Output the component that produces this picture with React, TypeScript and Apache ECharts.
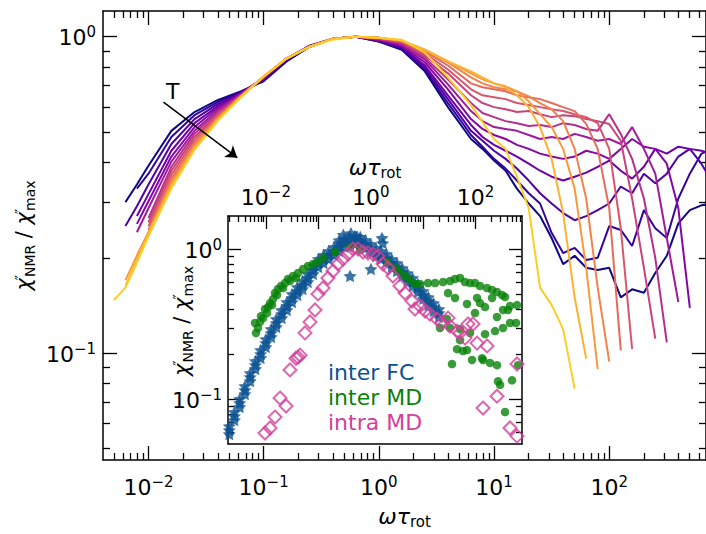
import React, { useEffect, useRef } from 'react';
import * as echarts from 'echarts';

const FONT = 'DejaVu Sans';

// ---------- main chart data ----------
const X_GRID = [0.00501, 0.00631, 0.00794, 0.01, 0.0158, 0.0251, 0.0398, 0.0631, 0.1, 0.158, 0.251, 0.398, 0.631, 1, 1.58, 2.51, 3.98, 6.31, 7.94, 10, 12.6, 15.8, 20, 25.1, 31.6, 39.8, 50.1, 63.1, 79.4, 100, 126, 158, 200, 251, 316, 398, 501, 631, 794, 1000];

const CURVE_0 = [null, 0.300, 0.341, 0.391, 0.504, 0.578, 0.630, 0.672, 0.723, 0.835, 0.930, 0.986, 1.0, 0.965, 0.910, 0.777, 0.599, 0.475, 0.442, 0.406, 0.377, 0.331, 0.297, 0.271, 0.231, 0.191, 0.203, 0.186, 0.183, 0.186, 0.150, 0.159, 0.155, 0.179, 0.203, 0.257, 0.283, 0.293, 0.297, 0.297];
const CURVE_1 = [null, null, 0.331, 0.369, 0.482, 0.565, 0.621, 0.668, 0.728, 0.841, 0.930, 0.986, 1.0, 0.965, 0.917, 0.788, 0.617, 0.489, 0.449, 0.411, 0.383, 0.351, 0.320, 0.297, 0.240, 0.207, 0.215, 0.197, 0.200, 0.252, 0.245, 0.218, 0.283, 0.248, 0.231, 0.308, 0.369, 0.427, 0.442, 0.442];
const CURVE_2 = [null, 0.252, 0.291, 0.341, 0.458, 0.549, 0.612, 0.663, 0.733, 0.847, 0.937, 0.986, 1.0, 0.972, 0.924, 0.800, 0.635, 0.504, 0.469, 0.436, 0.411, 0.383, 0.351, 0.320, 0.297, 0.277, 0.263, 0.271, 0.283, 0.297, 0.336, 0.320, 0.369, 0.344, 0.369, 0.418, 0.442, 0.397, 0.344, 0.308];
const CURVE_3 = [null, null, 0.271, 0.318, 0.436, 0.533, 0.603, 0.663, 0.739, 0.853, 0.937, 0.986, 1.0, 0.972, 0.930, 0.811, 0.653, 0.526, 0.482, 0.455, 0.436, 0.418, 0.397, 0.377, 0.361, 0.351, 0.361, 0.372, 0.388, 0.406, 0.377, 0.356, 0.388, 0.442, 0.427, 0.449, 0.442, 0.436, 0.427, 0.411];
const CURVE_4 = [null, null, 0.256, 0.302, 0.418, 0.518, 0.595, 0.658, 0.739, 0.853, 0.930, 0.986, 1.0, 0.979, 0.937, 0.829, 0.682, 0.549, 0.511, 0.489, 0.475, 0.455, 0.442, 0.427, 0.418, 0.411, 0.418, 0.436, 0.427, 0.411, 0.442, 0.475, 0.449, 0.442, 0.397, 0.287, 0.139, null, null, null];
const CURVE_5 = [null, null, 0.241, 0.287, 0.403, 0.504, 0.586, 0.658, 0.744, 0.853, 0.930, 0.986, 1.0, 0.979, 0.944, 0.847, 0.707, 0.582, 0.541, 0.518, 0.511, 0.504, 0.489, 0.475, 0.482, 0.475, 0.493, 0.482, 0.469, 0.475, 0.458, 0.518, 0.442, 0.369, 0.231, 0.145, null, null, null, null];
const CURVE_6 = [null, null, null, 0.267, 0.388, 0.493, 0.578, 0.653, 0.744, 0.853, 0.930, 0.986, 1.0, 0.986, 0.951, 0.859, 0.733, 0.617, 0.574, 0.557, 0.541, 0.533, 0.522, 0.526, 0.518, 0.533, 0.526, 0.511, 0.504, 0.569, 0.493, 0.411, 0.308, 0.200, 0.108, null, null, null, null, null];
const CURVE_7 = [null, null, null, 0.259, 0.377, 0.482, 0.569, 0.653, 0.744, 0.853, 0.930, 0.986, 1.0, 0.986, 0.958, 0.872, 0.766, 0.653, 0.617, 0.599, 0.590, 0.578, 0.582, 0.569, 0.557, 0.565, 0.561, 0.549, 0.541, 0.530, 0.469, 0.308, 0.186, 0.111, null, null, null, null, null, null];
const CURVE_8 = [null, null, null, 0.252, 0.366, 0.472, 0.565, 0.648, 0.749, 0.853, 0.930, 0.986, 1.0, 0.993, 0.965, 0.885, 0.788, 0.682, 0.653, 0.644, 0.635, 0.617, 0.608, 0.599, 0.590, 0.582, 0.569, 0.557, 0.533, 0.442, 0.248, 0.103, null, null, null, null, null, null, null, null];
const CURVE_9 = [null, null, null, 0.245, 0.356, 0.462, 0.557, 0.648, 0.749, 0.853, 0.930, 0.986, 1.0, 0.993, 0.965, 0.897, 0.811, 0.712, 0.692, 0.682, 0.672, 0.653, 0.644, 0.635, 0.617, 0.599, 0.582, 0.530, 0.442, 0.287, 0.102, null, null, null, null, null, null, null, null, null];
const CURVE_10 = [null, null, 0.203, 0.241, 0.349, 0.455, 0.553, 0.648, 0.749, 0.853, 0.930, 0.986, 1.0, 0.993, 0.972, 0.904, 0.829, 0.744, 0.712, 0.692, 0.682, 0.672, 0.648, 0.617, 0.590, 0.541, 0.442, 0.308, 0.161, 0.094, null, null, null, null, null, null, null, null, null, null];
const CURVE_11 = [null, 0.170, 0.203, 0.240, 0.341, 0.449, 0.549, 0.644, 0.749, 0.853, 0.930, 0.986, 1.0, 0.993, 0.972, 0.910, 0.835, 0.766, 0.733, 0.712, 0.697, 0.672, 0.625, 0.569, 0.518, 0.442, 0.331, 0.186, 0.089, null, null, null, null, null, null, null, null, null, null, null];
const CURVE_12 = [null, 0.163, 0.197, 0.238, 0.336, 0.442, 0.545, 0.644, 0.749, 0.853, 0.930, 0.986, 1.0, 0.993, 0.972, 0.910, 0.835, 0.777, 0.744, 0.712, 0.692, 0.653, 0.599, 0.518, 0.411, 0.277, 0.150, 0.096, null, null, null, null, null, null, null, null, null, null, null, null];
const CURVE_13 = [0.147, 0.161, 0.193, 0.234, 0.331, 0.439, 0.541, 0.644, 0.749, 0.853, 0.930, 0.979, 1.0, 0.993, 0.979, 0.891, 0.744, 0.608, 0.537, 0.475, 0.442, 0.361, 0.287, 0.161, 0.142, 0.119, 0.077, null, null, null, null, null, null, null, null, null, null, null, null, null];

const CURVES = [CURVE_0, CURVE_1, CURVE_2, CURVE_3, CURVE_4, CURVE_5, CURVE_6, CURVE_7, CURVE_8, CURVE_9, CURVE_10, CURVE_11, CURVE_12, CURVE_13];
const CURVE_COLORS = ['#0d0887', '#330597', '#5002a2', '#6d00a8', '#8707a6', '#a01a9c', '#b52f8c', '#c8437b', '#d7566c', '#e56b5d', '#f1834c', '#f99a3c', '#fdb130', '#fcce25'];

const ARROW_FROM = [0.0135, 0.621];
const ARROW_TO = [0.059, 0.4145];

// ---------- inset data ----------
const FC_X = [0.002, 0.00251, 0.00316, 0.00398, 0.00501, 0.00631, 0.00794, 0.01, 0.0126, 0.0158, 0.02, 0.0251, 0.0316, 0.0398, 0.0501, 0.0631, 0.0794, 0.1, 0.126, 0.158, 0.2, 0.251, 0.316, 0.398, 0.501, 0.631, 0.794, 1, 1.26, 1.58, 2, 2.51, 3.16, 3.98, 5.01, 6.31, 7.94, 10, 12.6, 15.8, 20];
const FC_Y_CENTER = [0.0624, 0.0774, 0.0946, 0.1153, 0.1409, 0.1694, 0.2005, 0.2372, 0.2767, 0.3227, 0.3705, 0.4188, 0.4733, 0.5272, 0.5781, 0.6439, 0.7278, 0.81, 0.8615, 0.9163, 0.9743, 1.036, 1.102, 1.136, 1.153, 1.136, 1.085, 1.02, 0.959, 0.916, 0.875, 0.81, 0.762, 0.706, 0.653, 0.605, 0.552, 0.496, 0.452, 0.412, 0.376];
const FC_Y_UPPER = [0.0663, 0.0823, 0.1006, 0.1226, 0.1498, 0.1801, 0.2131, 0.2521, 0.2941, 0.343, 0.3938, 0.4452, 0.5031, 0.5604, 0.6145, 0.6845, 0.7737, 0.861, 0.9158, 0.974, 1.0357, 1.101, 1.171, 1.208, 1.226, 1.208, 1.153, 1.084, 1.019, 0.974, 0.93, 0.861, 0.81, 0.75, 0.694, 0.643, 0.587, 0.527, 0.48, 0.438, 0.4];
const FC_Y_LOWER = [0.0587, 0.0728, 0.089, 0.1085, 0.1326, 0.1594, 0.1887, 0.2232, 0.2604, 0.3037, 0.3486, 0.3941, 0.4454, 0.4961, 0.544, 0.6059, 0.6849, 0.7622, 0.8107, 0.8622, 0.9168, 0.975, 1.037, 1.069, 1.085, 1.069, 1.021, 0.96, 0.902, 0.862, 0.823, 0.762, 0.717, 0.664, 0.614, 0.569, 0.519, 0.467, 0.425, 0.388, 0.354];
const FC_EXTRA = [[0.403, 0.664], [1.01, 0.739], [1.64, 1.19], [0.3, 1.25], [0.42, 1.28], [0.55, 1.22], [1.7, 1.1], [0.25, 1.15]];

const MD_INTER = [
  [0.00647, 0.277], [0.00619, 0.323], [0.00706, 0.299], [0.00771, 0.328], [0.00806, 0.359], [0.00881, 0.348], [0.00961, 0.4], [0.0105, 0.376],
  [0.011, 0.412], [0.012, 0.438], [0.0131, 0.425], [0.01365, 0.466], [0.0149, 0.511], [0.0163, 0.496], [0.017, 0.544], [0.0194, 0.569],
  [0.0212, 0.552], [0.0232, 0.596], [0.0264, 0.634], [0.0288, 0.615], [0.0329, 0.664], [0.0375, 0.644], [0.041, 0.695], [0.0511, 0.739],
  [0.0636, 0.774], [0.0792, 0.798], [0.0987, 0.823], [0.123, 0.875], [0.208, 0.959], [0.403, 1.036], [0.625, 0.99], [2.05, 0.823],
  [2.9, 0.75], [3.62, 0.706], [4.52, 0.664], [5.62, 0.624], [7.0, 0.587], [8.73, 0.587], [12.4, 0.596], [16.9, 0.596], [24.0, 0.605],
  [32.6, 0.615], [40.6, 0.634], [50.6, 0.644], [63.0, 0.605], [78.5, 0.596], [97.8, 0.596], [122, 0.569], [166, 0.552], [207, 0.536],
  [257, 0.519], [321, 0.496], [366, 0.481], [455, 0.419], [619, 0.425], [29.9, 0.511], [40.6, 0.474], [68.8, 0.432], [107, 0.474],
  [122, 0.438], [152, 0.412], [207, 0.474], [257, 0.354], [335, 0.394], [417, 0.394], [593, 0.323], [21.0, 0.299], [28.6, 0.343],
  [32.6, 0.299], [50.6, 0.294], [50.6, 0.248], [68.8, 0.213], [85.8, 0.183], [78.5, 0.277], [97.8, 0.376], [139, 0.183], [189, 0.175],
  [257, 0.169], [152, 0.272], [236, 0.285], [335, 0.299], [455, 0.323], [35.6, 0.172], [44.4, 0.216], [57.7, 0.21], [133, 0.188],
  [269, 0.132], [294, 0.125], [366, 0.0823], [497, 0.134], [647, 0.169],
];

const MD_INTRA = [
  [0.0096, 0.0596], [0.012, 0.0644], [0.0149, 0.0762], [0.0186, 0.102], [0.0242, 0.0902], [0.0288, 0.157], [0.0375, 0.188], [0.041, 0.191],
  [0.0448, 0.197], [0.0557, 0.277], [0.0695, 0.328], [0.0865, 0.394], [0.0987, 0.504], [0.123, 0.552], [0.153, 0.644], [0.191, 0.717],
  [0.238, 0.798], [0.296, 0.862], [0.369, 0.93], [0.459, 1.005], [0.573, 1.005], [0.713, 0.959], [0.888, 0.945], [1.106, 0.93],
  [1.378, 0.902], [1.717, 0.798], [2.14, 0.75], [2.66, 0.664], [3.62, 0.569], [4.52, 0.511], [6.14, 0.452], [7.0, 0.4], [8.73, 0.419],
  [10.9, 0.388], [13.5, 0.37], [18.4, 0.343], [22.9, 0.323], [29.9, 0.348], [32.6, 0.308], [44.4, 0.285], [50.6, 0.277], [63.0, 0.256],
  [71.9, 0.318], [89.6, 0.318], [107, 0.237], [166, 0.227], [139, 0.0875], [257, 0.105], [455, 0.0644], [619, 0.0569], [619, 0.172],
];

// ---------- axes / ticks ----------
const MAIN_X_MIN = 0.00403;
const MAIN_X_MAX = 692;
const MAIN_Y_MIN = 0.0459;
const MAIN_Y_MAX = 1.206;
const INSET_X_MIN = 0.00189;
const INSET_X_MAX = 771;
const INSET_Y_MIN = 0.0504;
const INSET_Y_MAX = 1.667;

const MAIN_X_MAJOR = [0.01, 0.1, 1, 10, 100];
const MAIN_Y_MAJOR = [0.1, 1];
const INSET_X_MAJOR = [0.01, 0.1, 1, 10, 100];
const INSET_X_LABELS = [0.01, 1, 100];
const INSET_Y_MAJOR = [0.1, 1];
const DECADES = [0.001, 0.01, 0.1, 1, 10, 100, 1000];

const minorTicks = (min: number, max: number) => {
  const out: number[] = [];
  DECADES.forEach((d) => {
    for (let k = 2; k <= 9; k++) {
      const v = +(k * d).toPrecision(3);
      if (v > min && v < max) out.push(v);
    }
  });
  return out;
};

const MAIN_X_MINOR = minorTicks(MAIN_X_MIN, MAIN_X_MAX);
const MAIN_Y_MINOR = minorTicks(MAIN_Y_MIN, MAIN_Y_MAX);
const INSET_X_MINOR = minorTicks(INSET_X_MIN, INSET_X_MAX);
const INSET_Y_MINOR = minorTicks(INSET_Y_MIN, INSET_Y_MAX);

const STAR = 'path://M0,-10L2.94,-4.05L9.51,-3.09L4.76,1.55L5.88,8.09L0,5L-5.88,8.09L-4.76,1.55L-9.51,-3.09L-2.94,-4.05Z';
const FC_COLOR = '#0b5192';
const MD_COLOR = '#088208';
const INTRA_COLOR = '#d2409a';

const supText = (v: number) => {
  const e = Math.round(Math.log10(v));
  return e < 0 ? '\u2212' + -e : String(e);
};
const tickLabel = (v: number) => `{b|10}{s|${supText(v)}}`;

const labelRich = {
  b: { fontFamily: FONT, fontSize: 22, color: '#000', lineHeight: 24, verticalAlign: 'bottom' },
  s: { fontFamily: FONT, fontSize: 15, color: '#000', lineHeight: 10, verticalAlign: 'top' },
};
const nameRich = {
  i: { fontFamily: FONT, fontSize: 22, fontStyle: 'italic', color: '#000', lineHeight: 24, verticalAlign: 'top' },
  c: { fontFamily: FONT, fontSize: 21, fontStyle: 'italic', color: '#000', lineHeight: 24, verticalAlign: 'top' },
  b: { fontFamily: FONT, fontSize: 21, color: '#000', lineHeight: 24, verticalAlign: 'top' },
  p: { fontFamily: FONT, fontSize: 14, color: '#000', lineHeight: 12, verticalAlign: 'top', width: 1 },
  r: { fontFamily: FONT, fontSize: 15, color: '#000', lineHeight: 14, verticalAlign: 'bottom' },
  q: { fontFamily: FONT, fontSize: 14, color: '#000', lineHeight: 14, verticalAlign: 'bottom' },
};
const OMEGA_TAU = '{i|ωτ}{r|rot}';
const CHI_TITLE = '{c|χ}{p|″}{q|NMR}{b| / }{c|χ}{p|″}{q|max}';

const SPINE = { show: true, lineStyle: { color: '#000', width: 1.5 } };
const ticks = (values: number[], length: number) => ({
  show: true,
  inside: true,
  length,
  customValues: values,
  lineStyle: { color: '#000', width: 1.3 },
});

const logAxis = (o: any) => ({
  type: 'log',
  logBase: 10,
  splitLine: { show: false },
  axisLabel: { show: false },
  axisTick: { show: false },
  axisLine: { show: false },
  nameMoveOverlap: false,
  ...o,
});

function buildOption() {
  const mainX = { gridIndex: 0, min: MAIN_X_MIN, max: MAIN_X_MAX };
  const mainY = { gridIndex: 0, min: MAIN_Y_MIN, max: MAIN_Y_MAX };
  const insX = { gridIndex: 1, min: INSET_X_MIN, max: INSET_X_MAX, z: 11 };
  const insY = { gridIndex: 1, min: INSET_Y_MIN, max: INSET_Y_MAX, z: 11 };

  const xAxis = [
    logAxis({
      ...mainX,
      position: 'bottom',
      axisLine: SPINE,
      axisTick: ticks(MAIN_X_MAJOR, 14),
      axisLabel: { show: true, customValues: MAIN_X_MAJOR, formatter: tickLabel, rich: labelRich, margin: 14 },
      name: OMEGA_TAU,
      nameLocation: 'middle',
      nameGap: 45,
      nameTextStyle: { rich: nameRich },
    }),
    logAxis({ ...mainX, position: 'bottom', axisTick: ticks(MAIN_X_MINOR, 7) }),
    logAxis({ ...mainX, position: 'top', axisLine: SPINE, axisTick: ticks(MAIN_X_MAJOR, 14) }),
    logAxis({ ...mainX, position: 'top', axisTick: ticks(MAIN_X_MINOR, 7) }),
    logAxis({
      ...insX,
      position: 'top',
      axisLine: SPINE,
      axisTick: ticks(INSET_X_MAJOR, 13),
      axisLabel: { show: true, customValues: INSET_X_LABELS, formatter: tickLabel, rich: labelRich, margin: 8 },
      name: OMEGA_TAU,
      nameLocation: 'middle',
      nameGap: 36,
      nameTextStyle: { rich: nameRich },
    }),
    logAxis({ ...insX, position: 'top', axisTick: ticks(INSET_X_MINOR, 6) }),
    logAxis({ ...insX, position: 'bottom', axisLine: SPINE }),
  ];

  const yAxis = [
    logAxis({
      ...mainY,
      position: 'left',
      axisLine: SPINE,
      axisTick: ticks(MAIN_Y_MAJOR, 14),
      axisLabel: { show: true, customValues: MAIN_Y_MAJOR, formatter: tickLabel, rich: labelRich, margin: 7 },
      name: CHI_TITLE,
      nameLocation: 'middle',
      nameGap: 66,
      nameTextStyle: { rich: nameRich },
    }),
    logAxis({ ...mainY, position: 'left', axisTick: ticks(MAIN_Y_MINOR, 7) }),
    logAxis({ ...mainY, position: 'right', axisLine: SPINE, axisTick: ticks(MAIN_Y_MAJOR, 14) }),
    logAxis({ ...mainY, position: 'right', axisTick: ticks(MAIN_Y_MINOR, 7) }),
    logAxis({
      ...insY,
      position: 'left',
      axisLine: SPINE,
      axisTick: ticks(INSET_Y_MAJOR, 13),
      axisLabel: { show: true, customValues: INSET_Y_MAJOR, formatter: tickLabel, rich: labelRich, margin: 6 },
      name: CHI_TITLE,
      nameLocation: 'middle',
      nameGap: 33,
      nameTextStyle: { rich: nameRich, padding: [0, 0, 0, 18] },
    }),
    logAxis({ ...insY, position: 'left', axisTick: ticks(INSET_Y_MINOR, 6) }),
    logAxis({ ...insY, position: 'right', axisLine: SPINE, axisTick: ticks(INSET_Y_MAJOR, 13) }),
    logAxis({ ...insY, position: 'right', axisTick: ticks(INSET_Y_MINOR, 6) }),
  ];

  const lineSeries = CURVES.map((curve, i) => ({
    type: 'line',
    name: 'T' + (i + 1),
    xAxisIndex: 0,
    yAxisIndex: 0,
    z: 2,
    symbol: 'none',
    showSymbol: false,
    silent: true,
    lineStyle: { color: CURVE_COLORS[i], width: 2 },
    data: X_GRID.map((x, j) => [x, curve[j]]).filter((p) => p[1] !== null),
    ...(i === 0
      ? {
          markLine: {
            silent: true,
            symbol: ['none', 'arrow'],
            symbolSize: 11,
            lineStyle: { color: '#000', width: 1.5, type: 'solid' },
            label: { show: false },
            data: [[{ coord: ARROW_FROM }, { coord: ARROW_TO }]],
          },
        }
      : {}),
  }));

  const fcData = [
    ...FC_X.map((x, i) => [x, FC_Y_LOWER[i]]),
    ...FC_X.map((x, i) => [x, FC_Y_UPPER[i]]),
    ...FC_X.map((x, i) => [x, FC_Y_CENTER[i]]),
    ...FC_EXTRA,
  ];

  const insetSeries = [
    {
      type: 'scatter',
      name: 'inter FC',
      xAxisIndex: 4,
      yAxisIndex: 4,
      z: 12,
      silent: true,
      symbol: STAR,
      symbolSize: 13,
      symbolKeepAspect: true,
      itemStyle: { color: FC_COLOR },
      data: fcData,
    },
    {
      type: 'scatter',
      name: 'inter MD',
      xAxisIndex: 4,
      yAxisIndex: 4,
      z: 13,
      silent: true,
      symbol: 'circle',
      symbolSize: 8.5,
      itemStyle: { color: MD_COLOR },
      data: MD_INTER,
    },
    {
      type: 'scatter',
      name: 'intra MD',
      xAxisIndex: 4,
      yAxisIndex: 4,
      z: 14,
      silent: true,
      symbol: 'diamond',
      symbolSize: 13,
      itemStyle: { color: 'rgba(0,0,0,0)', borderColor: INTRA_COLOR, borderWidth: 2 },
      data: MD_INTRA,
    },
  ];

  return {
    animation: false,
    backgroundColor: '#fff',
    textStyle: { fontFamily: FONT },
    grid: [
      { left: 103, top: 11, width: 604, height: 453, show: false },
      { left: 228, top: 216, width: 294, height: 228, show: true, backgroundColor: '#fff', borderWidth: 0, z: 10 },
    ],
    legend: {
      left: 318,
      top: 355,
      orient: 'vertical',
      icon: 'none',
      itemWidth: 0,
      itemHeight: 14,
      itemGap: 0,
      selectedMode: false,
      z: 20,
      textStyle: { fontFamily: FONT, fontSize: 22, lineHeight: 25 },
      data: [
        { name: 'inter FC', textStyle: { color: FC_COLOR } },
        { name: 'inter MD', textStyle: { color: MD_COLOR } },
        { name: 'intra MD', textStyle: { color: INTRA_COLOR } },
      ],
    },
    xAxis,
    yAxis,
    graphic: [
      {
        type: 'text',
        left: 166,
        top: 80,
        z: 5,
        style: { text: 'T', font: `22px "${FONT}"`, fill: '#000' },
      },
    ],
    series: [...lineSeries, ...insetSeries],
  };
}

export default function App() {
  const ref = useRef<HTMLDivElement>(null);
  useEffect(() => {
    if (!ref.current) return;
    const chart = echarts.init(ref.current, undefined, { renderer: 'svg' });
    chart.setOption(buildOption() as any);
    return () => chart.dispose();
  }, []);
  return (
    <div
      ref={ref}
      style={{ position: 'fixed', left: 0, top: 0, width: 706, height: 534, background: '#fff' }}
    />
  );
}
